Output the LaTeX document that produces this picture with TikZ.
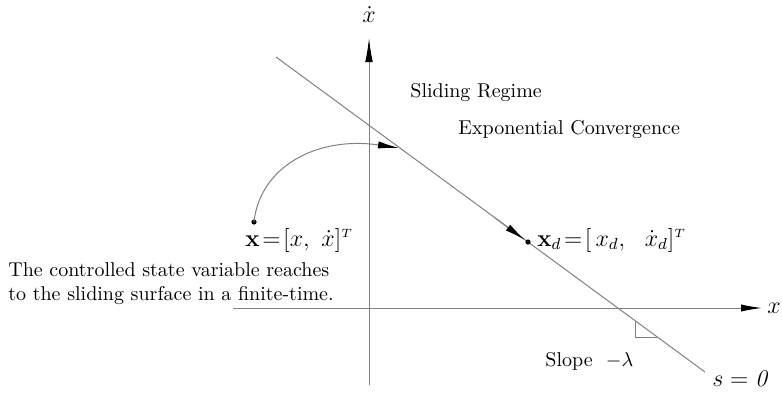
\documentclass[tikz,border=0pt]{standalone}
\usetikzlibrary{arrows.meta}

\tikzset{
  thinline/.style={draw=gray, line width=0.5pt},
  blackhead/.style={-{Latex[length=10.5pt, width=3.6pt, color=black]}},
  mathlabel/.style={font=\large, inner sep=0pt},
  textlabel/.style={font=\normalsize, inner sep=0pt}
}

\begin{document}
\begin{tikzpicture}[x=0.5pt, y=-0.5pt]

\useasboundingbox (0,0) rectangle (782,396);

% Axes
\coordinate (Xl) at (233,308);
\coordinate (Xr) at (762,308);
\coordinate (Yb) at (369,385);
\coordinate (Yt) at (369,38);

\draw[thinline, blackhead] (Xl)--(Xr);
\draw[thinline, -{Latex[length=12pt, width=3.8pt, color=black]}] (Yb)--(Yt);

\node[mathlabel] (xlab) at (774,308) {$x$};
\node[mathlabel] (ylab) at (369,15) {$\dot x$};

% Sliding surface
\coordinate (L1) at (276,57);
\coordinate (L2) at (705,372);
\draw[thinline] (L1)--(L2);

% Right angle mark
\coordinate (R1) at (635,321);
\coordinate (R2) at (635,337);
\coordinate (R3) at (657,337);
\draw[thinline] (R1)--(R2)--(R3);

% Points
\coordinate (S) at (254,222);
\coordinate (H) at (399,148);
\coordinate (Xd) at (528,242);
\coordinate (Xa) at (495,218);
\coordinate (Xe) at (525,240);

\fill (S) circle (1.3pt);
\fill (Xd) circle (1.3pt);

% Reaching phase
\draw[thinline, blackhead] (S) .. controls (260,166) and (318,136) .. (H);

% Sliding phase
\draw[thinline, blackhead] (Xa)--(Xe);

% Labels
\node[textlabel, anchor=west] (slide) at (410,93) {Sliding Regime};
\node[textlabel, anchor=west] (expo) at (458,130) {Exponential Convergence};
\node[mathlabel, anchor=west] (sx) at (245,240) {$\mathbf{x}\!=\![x,\ \dot x]^{\scriptscriptstyle T}$};
\node[mathlabel, anchor=west] (sxd) at (537,240) {$\mathbf{x}_d\!=\![\,x_d,\ \ \dot x_d]^{\scriptscriptstyle T}$};
\node[textlabel, anchor=west, align=left] (reach) at (8,284)
  {The controlled state variable reaches\\to the sliding surface in a finite-time.};
\node[textlabel, anchor=west] (slope) at (545,361) {Slope \ $-\lambda$};
\node[mathlabel, anchor=west] (surf) at (712,379) {$s=\mathit{0}$};

\end{tikzpicture}
\end{document}
